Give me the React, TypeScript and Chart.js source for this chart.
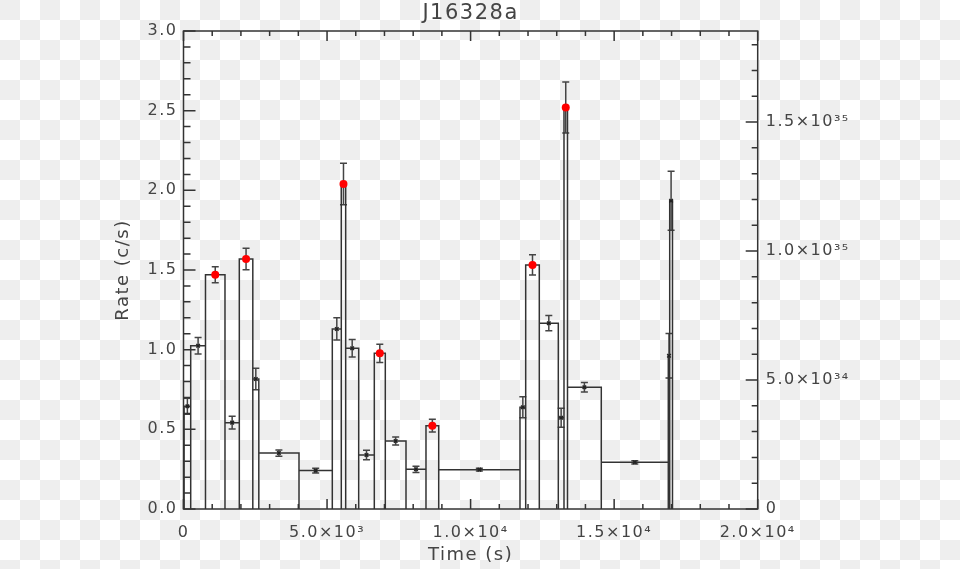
import React, { useEffect, useRef } from 'react';
import { Chart, registerables } from 'chart.js';
Chart.register(...registerables);

// ---- data (time bins in seconds, rate in c/s) ----
const binStart = [20, 251, 766, 1445, 1944, 2414, 2623, 4023, 5183, 5496, 5649, 6102, 6646, 7029, 7750, 8446, 8889, 11720, 11919, 12393, 13055, 13253, 13375, 14552, 16886, 16935];
const binEnd = [251, 766, 1445, 1944, 2414, 2623, 4023, 5183, 5496, 5649, 6102, 6646, 7029, 7750, 8446, 8889, 11720, 11919, 12393, 13055, 13253, 13375, 14552, 16886, 16935, 17032];
const rates = [0.645, 1.025, 1.47, 0.542, 1.569, 0.816, 0.351, 0.241, 1.13, 2.04, 1.009, 0.339, 0.977, 0.427, 0.249, 0.523, 0.247, 0.639, 1.532, 1.166, 0.573, 2.52, 0.764, 0.293, 0.962, 1.935];
const rateErrors = [0.05, 0.052, 0.05, 0.04, 0.068, 0.068, 0.02, 0.015, 0.07, 0.13, 0.055, 0.03, 0.057, 0.025, 0.02, 0.04, 0.008, 0.066, 0.063, 0.048, 0.06, 0.16, 0.03, 0.01, 0.14, 0.185];
const flagged = [false, false, true, false, true, false, false, false, false, true, false, false, true, false, false, true, false, false, true, false, false, true, false, false, false, false];

// ---- axes ----
const titleText = 'J16328a';
const xTitle = 'Time (s)';
const yTitle = 'Rate (c/s)';
const xMin = 0, xMax = 20000, xMinorStep = 1000;
const xMajorTicks = [0, 5000, 10000, 15000, 20000];
const xMajorLabels = ['0', '5.0×10³', '1.0×10⁴', '1.5×10⁴', '2.0×10⁴'];
const yMin = 0, yMax = 3.0, yMinorStep = 0.1;
const yMajorTicks = [0, 0.5, 1.0, 1.5, 2.0, 2.5, 3.0];
const yMajorLabels = ['0.0', '0.5', '1.0', '1.5', '2.0', '2.5', '3.0'];
const y2Min = 0, y2Max = 1.853e35, y2MinorStep = 1e34;
const y2MajorTicks = [0, 5e34, 1e35, 1.5e35];
const y2MajorLabels = ['0', '5.0×10³⁴', '1.0×10³⁵', '1.5×10³⁵'];

const FONT = 'DejaVu Sans';
const TEXT = '#444';
const AXIS = '#333';

function makeTicks(min: number, max: number, step: number) {
  const out: { value: number }[] = [];
  const n = Math.floor((max - min) / step + 1e-6);
  for (let i = 0; i <= n; i++) out.push({ value: min + i * step });
  return out;
}
function labelFor(v: number, majors: number[], labels: string[], step: number) {
  const i = majors.findIndex((m) => Math.abs(m - v) < step * 1e-3);
  return i >= 0 ? labels[i] : '';
}

const checkerPlugin = {
  id: 'checker',
  beforeDraw(chart: any) {
    const { ctx, width, height } = chart;
    ctx.save();
    const s = 20;
    for (let j = 0; j * s < height; j++) {
      for (let i = 0; i * s < width; i++) {
        ctx.fillStyle = (i + j) % 2 === 0 ? '#eeeeee' : '#ffffff';
        ctx.fillRect(i * s, j * s, s, s);
      }
    }
    ctx.restore();
    (ctx as any).letterSpacing = '1.5px';
  },
};

const errorBarPlugin = {
  id: 'errbars',
  beforeDatasetsDraw(chart: any) {
    const { ctx, scales } = chart;
    const xs = scales.x, ys = scales.y;
    ctx.save();
    ctx.strokeStyle = '#444';
    ctx.lineWidth = 1.5;
    for (let i = 0; i < rates.length; i++) {
      const px = xs.getPixelForValue((binStart[i] + binEnd[i]) / 2);
      const lo = ys.getPixelForValue(rates[i] - rateErrors[i]);
      const hi = ys.getPixelForValue(rates[i] + rateErrors[i]);
      ctx.beginPath();
      ctx.moveTo(px, lo); ctx.lineTo(px, hi);
      ctx.moveTo(px - 3.5, lo); ctx.lineTo(px + 3.5, lo);
      ctx.moveTo(px - 3.5, hi); ctx.lineTo(px + 3.5, hi);
      ctx.stroke();
    }
    ctx.restore();
  },
};

const axesPlugin = {
  id: 'axesbox',
  afterDraw(chart: any) {
    const { ctx, chartArea, scales } = chart;
    const { left, right, top, bottom } = chartArea;
    ctx.save();
    ctx.strokeStyle = AXIS;
    ctx.lineWidth = 1.5;
    ctx.strokeRect(left, top, right - left, bottom - top);
    ctx.beginPath();
    scales.x.ticks.forEach((t: any) => {
      const px = scales.x.getPixelForValue(t.value);
      const major = t.label !== '';
      ctx.moveTo(px, bottom); ctx.lineTo(px, bottom - (major ? 10 : 5));
      ctx.moveTo(px, top); ctx.lineTo(px, top + (major ? 10 : 5));
    });
    scales.y.ticks.forEach((t: any) => {
      const py = scales.y.getPixelForValue(t.value);
      const major = t.label !== '';
      ctx.moveTo(left, py); ctx.lineTo(left + (major ? 12 : 7), py);
    });
    scales.y2.ticks.forEach((t: any) => {
      const py = scales.y2.getPixelForValue(t.value);
      const major = t.label !== '';
      ctx.moveTo(right, py); ctx.lineTo(right - (major ? 12 : 6), py);
    });
    ctx.stroke();
    ctx.restore();
  },
};

export default function App() {
  const ref = useRef<HTMLCanvasElement | null>(null);
  useEffect(() => {
    if (!ref.current) return;
    const outline: { x: number; y: number }[] = [];
    binStart.forEach((s, i) => {
      outline.push({ x: s, y: 0 }, { x: s, y: rates[i] }, { x: binEnd[i], y: rates[i] }, { x: binEnd[i], y: 0 });
    });
    const centers = binStart.map((s, i) => ({ x: (s + binEnd[i]) / 2, y: rates[i] }));
    const blackPts = centers.filter((_, i) => !flagged[i]);
    const redPts = centers.filter((_, i) => flagged[i]);
    const tickFont = { family: FONT, size: 16 };
    const chart = new Chart(ref.current, {
      type: 'line',
      data: {
        datasets: [
          { type: 'scatter', data: redPts, pointStyle: 'circle', pointRadius: 4, backgroundColor: '#ff0000', borderColor: '#ff0000', borderWidth: 0, order: 0 } as any,
          { type: 'scatter', data: blackPts, pointStyle: 'crossRot', pointRadius: 2.5, borderColor: '#222', borderWidth: 1.5, order: 1 } as any,
          { type: 'line', data: outline, borderColor: '#333', borderWidth: 1.5, pointRadius: 0, fill: false, tension: 0, order: 2 } as any,
        ],
      },
      options: {
        responsive: false,
        animation: false,
        events: [],
        layout: { padding: 0 },
        plugins: {
          legend: { display: false },
          tooltip: { enabled: false },
          title: {
            display: true,
            text: titleText,
            fullSize: false,
            color: TEXT,
            font: { family: FONT, size: 21, weight: 'normal', lineHeight: 1.0 },
            padding: { top: 3, bottom: 7 },
          },
        },
        scales: {
          x: {
            type: 'linear',
            position: 'bottom',
            min: xMin,
            max: xMax,
            afterBuildTicks: (s: any) => { s.ticks = makeTicks(xMin, xMax, xMinorStep); },
            afterFit: (s: any) => { s.height = 60; },
            grid: { display: false, drawTicks: false, tickLength: 0 },
            border: { display: false },
            ticks: {
              autoSkip: false,
              maxRotation: 0,
              minRotation: 0,
              padding: 14,
              color: TEXT,
              font: tickFont,
              callback: (v: any) => labelFor(Number(v), xMajorTicks, xMajorLabels, xMinorStep),
            },
            title: { display: true, text: xTitle, color: TEXT, font: { family: FONT, size: 18 }, padding: { top: 0, bottom: 3 } },
          },
          y: {
            type: 'linear',
            position: 'left',
            min: yMin,
            max: yMax,
            afterBuildTicks: (s: any) => { s.ticks = makeTicks(yMin, yMax, yMinorStep); },
            afterFit: (s: any) => { s.width = 183.5; },
            grid: { display: false, drawTicks: false, tickLength: 0 },
            border: { display: false },
            ticks: {
              autoSkip: false,
              padding: 6,
              color: TEXT,
              font: tickFont,
              callback: (v: any) => labelFor(Number(v), yMajorTicks, yMajorLabels, yMinorStep),
            },
            title: { display: true, text: yTitle, color: TEXT, font: { family: FONT, size: 18 }, padding: { top: 113, bottom: 0 } },
          },
          y2: {
            type: 'linear',
            position: 'right',
            min: y2Min,
            max: y2Max,
            afterBuildTicks: (s: any) => { s.ticks = makeTicks(y2Min, y2Max, y2MinorStep); },
            afterFit: (s: any) => { s.width = 960 - 757.7; },
            grid: { display: false, drawTicks: false, tickLength: 0 },
            border: { display: false },
            ticks: {
              autoSkip: false,
              padding: 8,
              color: TEXT,
              font: tickFont,
              callback: (v: any) => labelFor(Number(v), y2MajorTicks, y2MajorLabels, y2MinorStep),
            },
          },
        },
      },
      plugins: [checkerPlugin, errorBarPlugin, axesPlugin],
    } as any);
    return () => chart.destroy();
  }, []);
  return (
    <div style={{ position: 'absolute', left: 0, top: 0, width: 960, height: 569 }}>
      <canvas ref={ref} width={960} height={569} style={{ display: 'block', width: 960, height: 569 }} />
    </div>
  );
}
